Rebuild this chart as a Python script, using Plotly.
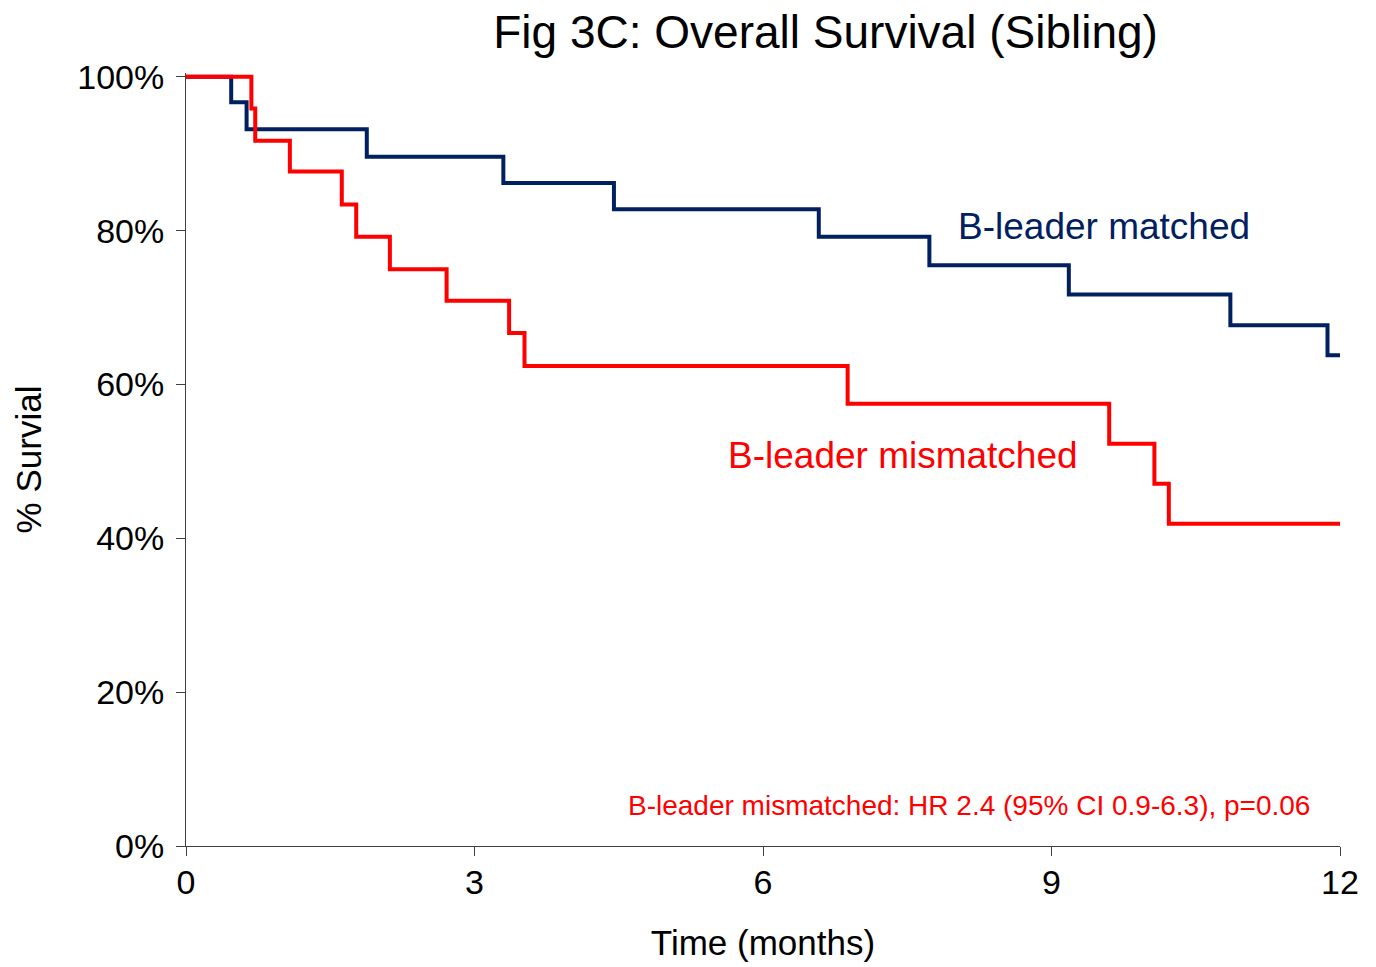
import plotly.graph_objects as go

# Kaplan-Meier step data (months, % survival)
matched_time = [0, 0.47, 0.63, 1.88, 3.30, 4.45, 6.58, 7.73, 9.18, 10.86, 11.87, 12]
matched_surv = [100, 96.7, 93.2, 89.6, 86.2, 82.8, 79.2, 75.5, 71.7, 67.7, 63.8, 63.8]

mismatched_time = [0, 0.68, 0.72, 1.08, 1.62, 1.77, 2.12, 2.71, 3.36, 3.52, 6.88, 9.60, 10.07, 10.22, 12]
mismatched_surv = [100, 95.9, 91.7, 87.7, 83.4, 79.2, 75.0, 70.9, 66.7, 62.4, 57.5, 52.3, 47.1, 41.9, 41.9]

x_ticks = [0, 3, 6, 9, 12]
y_ticks = [0, 20, 40, 60, 80, 100]
y_tick_labels = ["0%", "20%", "40%", "60%", "80%", "100%"]

NAVY = "#002060"
RED = "#FF0000"
FONT = "Liberation Sans, Arial, sans-serif"

fig = go.Figure()
fig.add_trace(go.Scatter(x=matched_time, y=matched_surv, mode="lines",
                         line=dict(shape="hv", color=NAVY, width=4),
                         name="B-leader matched", showlegend=False))
fig.add_trace(go.Scatter(x=mismatched_time, y=mismatched_surv, mode="lines",
                         line=dict(shape="hv", color=RED, width=4),
                         name="B-leader mismatched", showlegend=False))

fig.add_annotation(x=9.55, y=80.5, xref="x", yref="y", text="B-leader matched",
                   showarrow=False, font=dict(family=FONT, size=37, color=NAVY))
fig.add_annotation(x=7.46, y=50.8, xref="x", yref="y", text="B-leader mismatched",
                   showarrow=False, font=dict(family=FONT, size=37, color=RED))
fig.add_annotation(x=11.71, y=5.3, xref="x", yref="y", xanchor="right",
                   text="B-leader mismatched: HR 2.4 (95% CI 0.9-6.3), p=0.06",
                   showarrow=False, font=dict(family=FONT, size=28, color=RED))

fig.update_layout(
    width=1376, height=967,
    margin=dict(l=186, r=36, t=73, b=121),
    paper_bgcolor="white", plot_bgcolor="white",
    font=dict(family=FONT, size=34, color="black"),
    title=dict(text="Fig 3C: Overall Survival (Sibling)", x=0.6, xref="container",
               xanchor="center", y=1 - 32 / 967, yref="container", yanchor="middle",
               font=dict(family=FONT, size=46, color="black")),
    xaxis=dict(range=[0, 12], tickvals=x_ticks, showgrid=False, zeroline=False,
               showline=True, linecolor="#404040", linewidth=1,
               ticks="outside", ticklen=9, tickcolor="#404040",
               tickfont=dict(size=34), ticklabelstandoff=-3,
               title=dict(text="Time (months)", font=dict(size=35), standoff=30)),
    yaxis=dict(range=[0, 100.5], tickvals=y_ticks, ticktext=y_tick_labels,
               showgrid=False, zeroline=False,
               showline=True, linecolor="#404040", linewidth=1,
               ticks="outside", ticklen=9, tickcolor="#404040",
               tickfont=dict(size=34), ticklabelstandoff=5,
               title=dict(text="% Survial", font=dict(size=35), standoff=24)),
)

fig.write_html("out.html")
